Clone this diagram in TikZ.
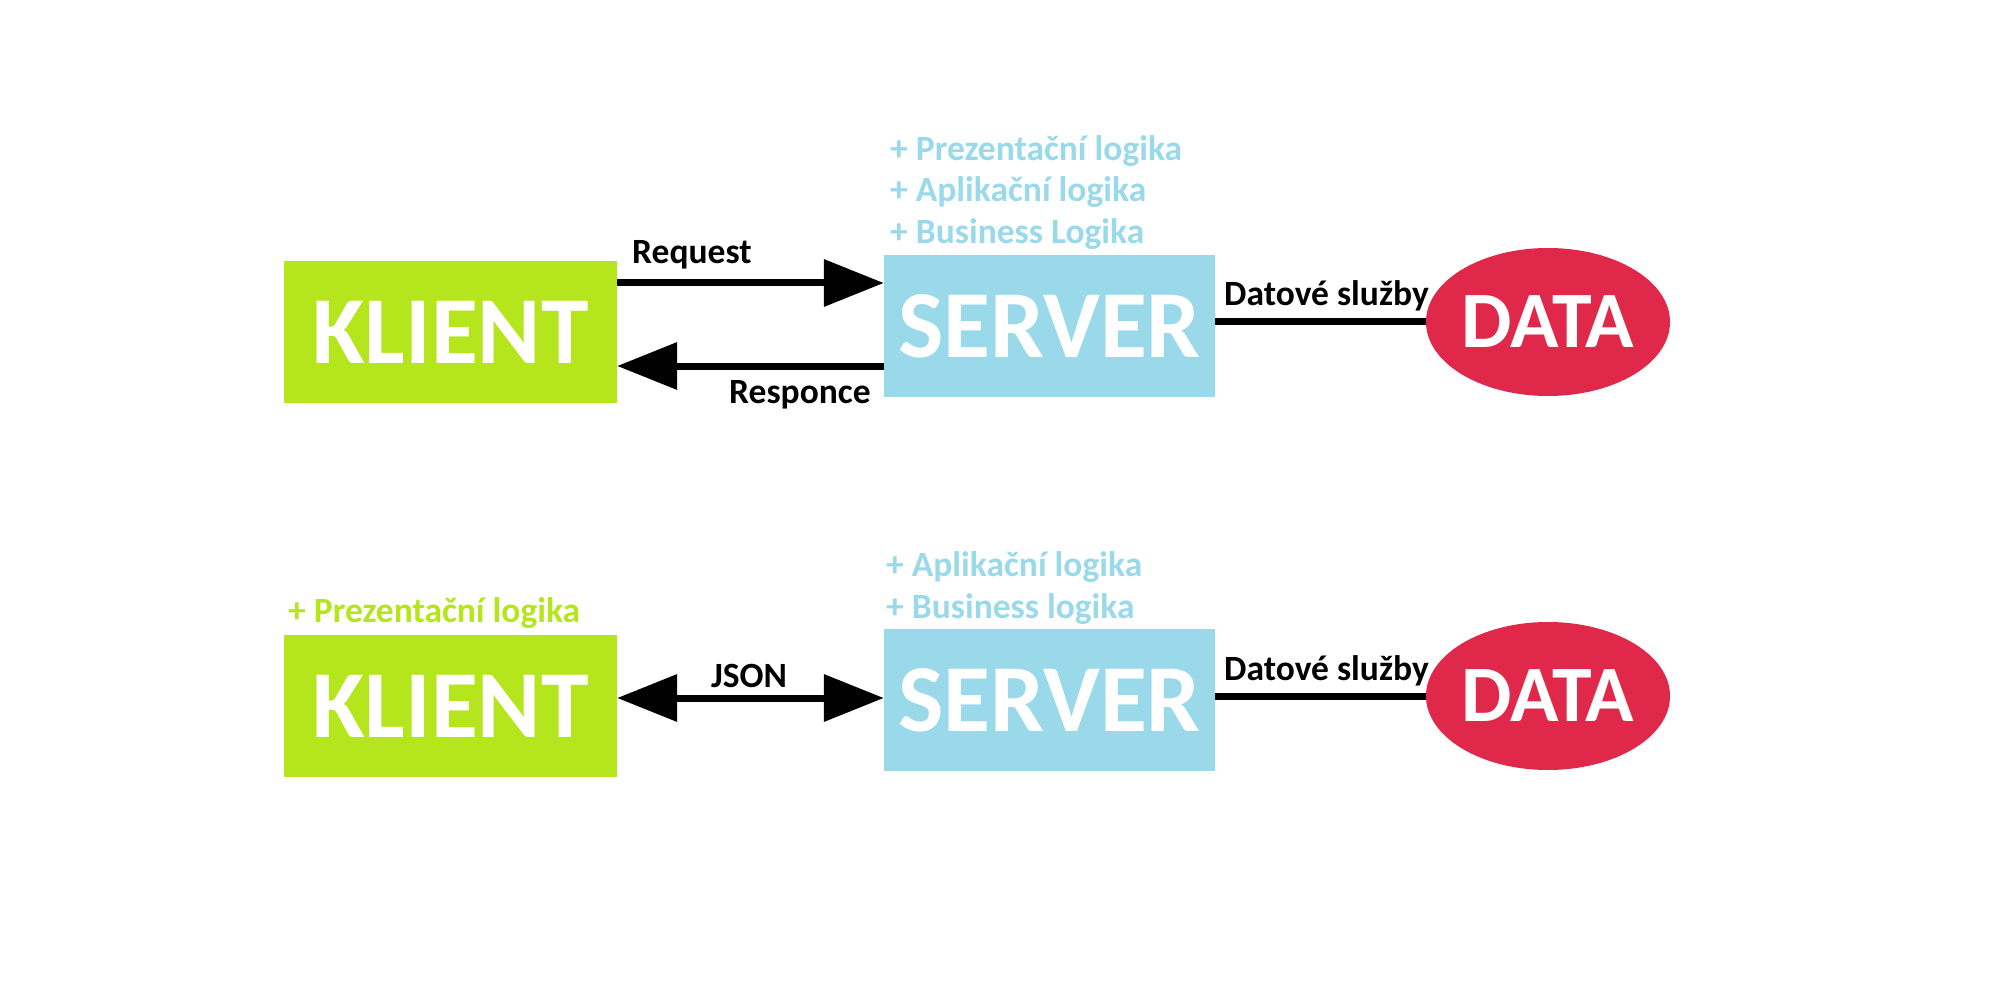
\documentclass[tikz,border=0pt]{standalone}
\usepackage{fontspec}
\setmainfont{Carlito}
\usetikzlibrary{arrows.meta,shapes.geometric}
\definecolor{kgreen}{HTML}{B5E61D}
\definecolor{sblue}{HTML}{99D9EA}
\definecolor{dred}{HTML}{E0294A}
\tikzset{
  kbox/.style={rectangle, fill=kgreen, inner sep=0pt, minimum width=333pt, minimum height=142pt,
    text=white, font=\fontsize{96}{96}\selectfont\bfseries},
  sbox/.style={rectangle, fill=sblue, inner sep=0pt, minimum width=331pt, minimum height=142pt,
    text=white, font=\fontsize{96}{96}\selectfont\bfseries},
  dell/.style={ellipse, fill=dred, inner sep=0pt, minimum width=242pt, minimum height=148pt,
    text=white, font=\fontsize{80}{80}\selectfont\bfseries},
  lbl/.style={anchor=base west, inner sep=0pt, font=\fontsize{35.5}{36}\selectfont\bfseries, text=black},
  bluetxt/.style={anchor=base west, inner sep=0pt, font=\fontsize{35.5}{36}\selectfont\bfseries, text=sblue},
  greentxt/.style={anchor=base west, inner sep=0pt, font=\fontsize{35.5}{36}\selectfont\bfseries, text=kgreen},
  flow/.style={line width=7pt, draw=black},
  tip/.tip={Triangle[length=60pt,width=46pt]}
}
\begin{document}
\begin{tikzpicture}[x=1pt,y=-1pt]
\useasboundingbox (0,0) rectangle (2000,1000);
% row 1
\node[kbox] (k1) at (450.5,332) {KLIENT};
\node[sbox] (s1) at (1049.5,326) {SERVER};
\node[dell] (d1) at (1548,322) {DATA};
\draw[flow,-tip] ([yshift=49pt]k1.east) -- ([yshift=43pt]s1.west);
\draw[flow,-tip] ([yshift=-40pt]s1.west) -- ([yshift=-34pt]k1.east);
\draw[flow] ([yshift=4pt]s1.east) -- (d1.west);
\node[lbl] (req) at (632,264) {Request};
\node[lbl] (resp) at (729,403) {Responce};
\node[lbl] (ds1) at (1224,306) {Datové služby};
\node[bluetxt] (b1) at (890,161) {+ Prezentační logika};
\node[bluetxt] (b2) at (890,202) {+ Aplikační logika};
\node[bluetxt] (b3) at (890,244) {+ Business Logika};
% row 2
\node[kbox] (k2) at (450.5,706) {KLIENT};
\node[sbox] (s2) at (1049.5,700) {SERVER};
\node[dell] (d2) at (1548,696) {DATA};
\draw[flow,tip-tip] ([yshift=8pt]k2.east) -- ([yshift=2pt]s2.west);
\draw[flow] ([yshift=4pt]s2.east) -- (d2.west);
\node[lbl, anchor=base] (json) at (749,687) {JSON};
\node[lbl] (ds2) at (1224,680) {Datové služby};
\node[bluetxt] (b4) at (886,576) {+ Aplikační logika};
\node[bluetxt] (b5) at (886,618) {+ Business logika};
\node[greentxt] (g1) at (288,622) {+ Prezentační logika};
\end{tikzpicture}
\end{document}
